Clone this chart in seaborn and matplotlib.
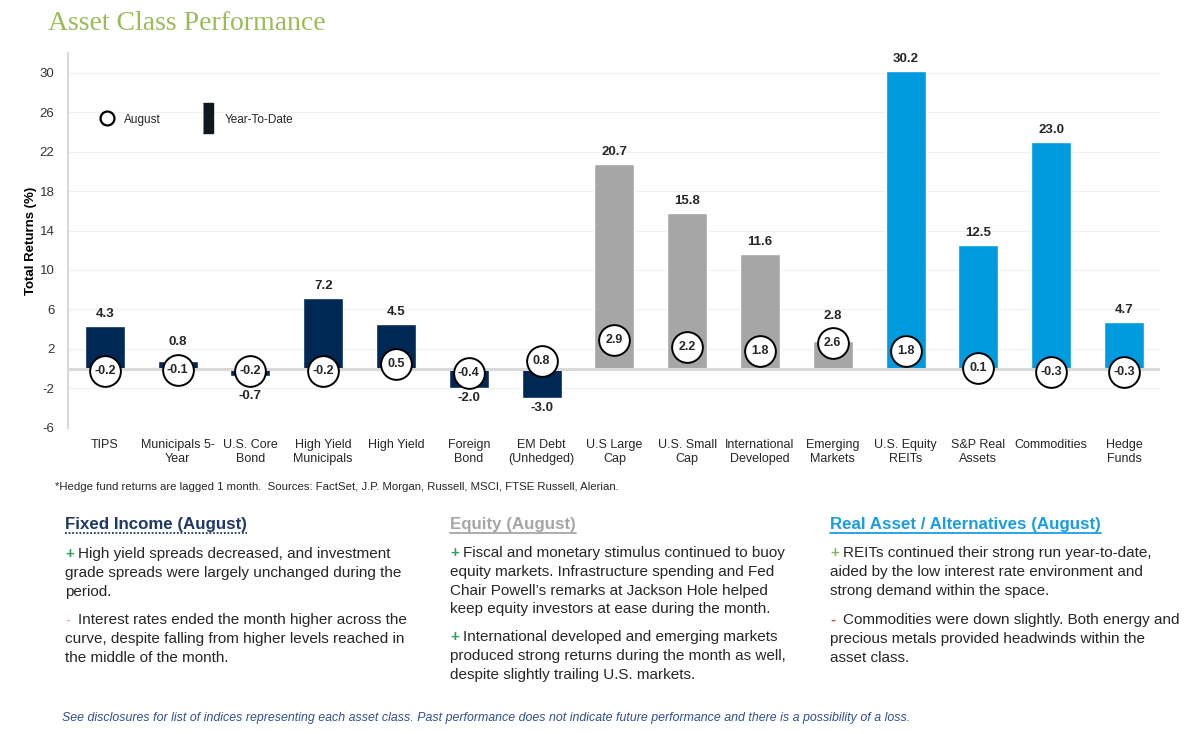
import matplotlib
matplotlib.use("Agg")
import matplotlib.pyplot as plt
from matplotlib.lines import Line2D
import seaborn as sns
import pandas as pd

# ── Data ──────────────────────────────────────────────────────────────────────
CATEGORIES = [
    "TIPS", "Municipals 5-\nYear", "U.S. Core\nBond", "High Yield\nMunicipals",
    "High Yield", "Foreign\nBond", "EM Debt\n(Unhedged)", "U.S Large\nCap",
    "U.S. Small\nCap", "International\nDeveloped", "Emerging\nMarkets",
    "U.S. Equity\nREITs", "S&P Real\nAssets", "Commodities", "Hedge\nFunds",
]
YTD = [4.3, 0.8, -0.7, 7.2, 4.5, -2.0, -3.0, 20.7, 15.8, 11.6, 2.8, 30.2, 12.5, 23.0, 4.7]
AUGUST = [-0.2, -0.1, -0.2, -0.2, 0.5, -0.4, 0.8, 2.9, 2.2, 1.8, 2.6, 1.8, 0.1, -0.3, -0.3]
GROUPS = ["Fixed Income"] * 7 + ["Equity"] * 4 + ["Real Assets"] * 4
Y_TICKS = [-6, -2, 2, 6, 10, 14, 18, 22, 26, 30]

FOOTNOTE = ("*Hedge fund returns are lagged 1 month.  Sources: FactSet, J.P. Morgan, "
            "Russell, MSCI, FTSE Russell, Alerian.")
DISCLAIMER = ("See disclosures for list of indices representing each asset class. Past "
              "performance does not indicate future performance and there is a possibility of a loss.")

FI_HEAD = "Fixed Income (August)"
FI_P1 = ["High yield spreads decreased, and investment",
         "grade spreads were largely unchanged during the",
         "period."]
FI_P2 = ["Interest rates ended the month higher across the",
         "curve, despite falling from higher levels reached in",
         "the middle of the month."]
EQ_HEAD = "Equity (August)"
EQ_P1 = ["Fiscal and monetary stimulus continued to buoy",
         "equity markets. Infrastructure spending and Fed",
         "Chair Powell\u2019s remarks at Jackson Hole helped",
         "keep equity investors at ease during the month."]
EQ_P2 = ["International developed and emerging markets",
         "produced strong returns during the month as well,",
         "despite slightly trailing U.S. markets."]
RA_HEAD = "Real Asset / Alternatives (August)"
RA_P1 = ["REITs continued their strong run year-to-date,",
         "aided by the low interest rate environment and",
         "strong demand within the space."]
RA_P2 = ["Commodities were down slightly. Both energy and",
         "precious metals provided headwinds within the",
         "asset class."]

# ── Style ─────────────────────────────────────────────────────────────────────
NAVY = "#002855"
GRAY = "#A6A6A6"
BLUE = "#009BDE"
GROUP_COLORS = {"Fixed Income": NAVY, "Equity": GRAY, "Real Assets": BLUE}
TEXT = "#262626"
CIRCLE_R = 1.55  # circle radius in data units (for label placement)

sns.set_theme(style="white")
plt.rcParams["font.family"] = ["Liberation Sans", "DejaVu Sans"]
plt.rcParams["axes.unicode_minus"] = False

df = pd.DataFrame({"cat": CATEGORIES, "ytd": YTD, "aug": AUGUST, "group": GROUPS})
df["x"] = range(len(df))

fig = plt.figure(figsize=(12, 7.34), dpi=100)
ax = fig.add_axes([0.057, 0.417, 0.910, 0.511])

sns.barplot(data=df, x="cat", y="ytd", hue="group", palette=GROUP_COLORS,
            width=0.55, dodge=False, legend=False, ax=ax, saturation=1)

# gridlines + zero line
for t in Y_TICKS:
    ax.axhline(t, color="#F0F0F0", lw=0.8, zorder=0)
ax.axhline(0, color="#D9D9D9", lw=2.2, zorder=1.5)

# August circles
ax.scatter(df["x"], df["aug"], s=490, facecolor="white", edgecolor="black",
           linewidth=1.4, zorder=3)
for x, v in zip(df["x"], df["aug"]):
    ax.text(x, v, f"{v:.1f}", ha="center", va="center", fontsize=9,
            fontweight="bold", color=TEXT, zorder=4)

# YTD labels, kept clear of the circles
for x, v, a in zip(df["x"], df["ytd"], df["aug"]):
    if v >= 0:
        ax.text(x, max(v, a + CIRCLE_R) + 0.6, f"{v:.1f}", ha="center", va="bottom",
                fontsize=9.5, fontweight="bold", color=TEXT)
    else:
        ax.text(x, min(v, a - CIRCLE_R) - 0.4, f"{v:.1f}", ha="center", va="top",
                fontsize=9.5, fontweight="bold", color=TEXT)

ax.set_xlim(-0.5, len(df) - 0.5)
ax.set_ylim(-6, 32)
ax.set_yticks(Y_TICKS)
ax.tick_params(axis="y", labelsize=9.5, labelcolor="#333333", length=0, pad=10)
ax.tick_params(axis="x", labelsize=9, labelcolor=TEXT, length=0, pad=8)
ax.set_xlabel("")
ax.set_ylabel("Total Returns (%)", fontsize=9.5, fontweight="bold", color="black", labelpad=2)
for s in ["top", "right", "bottom"]:
    ax.spines[s].set_visible(False)
ax.spines["left"].set_color("#D9D9D9")
ax.spines["left"].set_linewidth(1.5)

# legend
bar_marker = [(-0.3, -1), (0.3, -1), (0.3, 1), (-0.3, 1)]
handles = [
    Line2D([], [], ls="none", marker="o", markersize=10, markerfacecolor="white",
           markeredgecolor="black", markeredgewidth=1.6),
    Line2D([], [], ls="none", marker=bar_marker, markersize=22, markerfacecolor="#0E1821",
           markeredgecolor="#0E1821"),
]
ax.legend(handles, ["August", "Year-To-Date"], ncol=2, frameon=False, fontsize=8.5,
          loc="center left", bbox_to_anchor=(0.015, 0.822), columnspacing=3.0,
          handletextpad=0.4)

# ── Text ──────────────────────────────────────────────────────────────────────
W, H = 1200, 734


def fx(px):
    return px / W


def fy(py):
    return 1 - py / H


fig.text(fx(48), fy(23), "Asset Class Performance", fontsize=20, color="#9BBB59",
         family=["Liberation Serif", "DejaVu Serif"], va="center", ha="left")
fig.text(fx(55), fy(487), FOOTNOTE, fontsize=8.2, color=TEXT, va="center")
fig.text(fx(62), fy(718), DISCLAIMER, fontsize=8.9, color="#2F4F8F", style="italic",
         va="center")

heads = []
for x0, head, color, ls in [(65, FI_HEAD, "#1F3864", (0, (1, 1))),
                            (450, EQ_HEAD, "#A6A6A6", "-"),
                            (830, RA_HEAD, "#1A9DE0", "-")]:
    t = fig.text(fx(x0), fy(525), head, fontsize=12.2, fontweight="bold",
                 color=color, va="center")
    heads.append((t, color, ls))

LINE = 18.8


def paragraph(x0, y0, sign, sign_color, lines):
    fig.text(fx(x0), fy(y0), sign, fontsize=11, fontweight="bold", color=sign_color,
             va="center")
    for i, line in enumerate(lines):
        xoff = 13 if i == 0 else 0
        fig.text(fx(x0 + xoff), fy(y0 + i * LINE), line, fontsize=11, color=TEXT,
                 va="center")


paragraph(65, 554, "+", "#2CA05A", FI_P1)
paragraph(65, 620, "-", "#F4B6C2", FI_P2)
paragraph(450, 553, "+", "#2CA05A", EQ_P1)
paragraph(450, 637, "+", "#2CA05A", EQ_P2)
paragraph(830, 553, "+", "#8DB356", RA_P1)
paragraph(830, 620, "-", "#C0504D", RA_P2)

# underline section headings
fig.canvas.draw()
inv = fig.transFigure.inverted()
for t, color, ls in heads:
    bb = t.get_window_extent()
    (x0, y0), (x1, _) = inv.transform([(bb.x0, bb.y0), (bb.x1, bb.y1)])
    fig.add_artist(Line2D([x0, x1], [y0 - 0.001, y0 - 0.001], color=color, lw=1.3,
                          ls=ls, transform=fig.transFigure))

fig.savefig("out.png", dpi=100)
